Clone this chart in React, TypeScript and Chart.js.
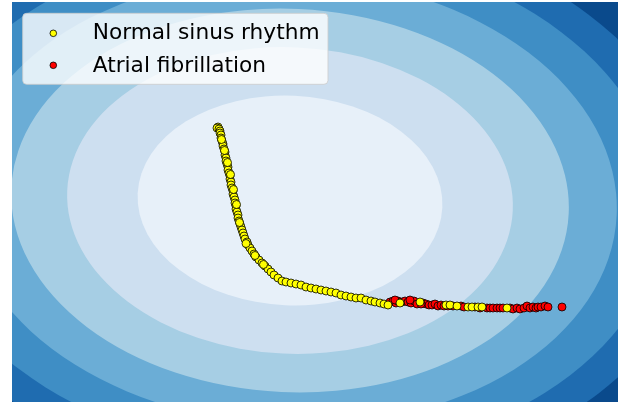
import React, { useEffect, useRef } from "react";
import { Chart, registerables } from "chart.js";

Chart.register(...registerables);

// ---- data ----
const seriesLabels = ["Normal sinus rhythm", "Atrial fibrillation"];

const normalX = [
  -0.72, -0.73, -0.71, -0.70, -0.70, -0.69, -0.69, -0.68, -0.67, -0.67,
  -0.66, -0.65, -0.65, -0.64, -0.64, -0.63, -0.62, -0.62, -0.61, -0.60,
  -0.60, -0.59, -0.59, -0.58, -0.57, -0.57, -0.56, -0.55, -0.55, -0.54,
  -0.54, -0.53, -0.52, -0.52, -0.51, -0.50, -0.49, -0.48, -0.47, -0.46,
  -0.45, -0.43, -0.42, -0.40, -0.38, -0.36, -0.34, -0.31, -0.28, -0.25,
  -0.22, -0.19, -0.16, -0.12, -0.08, -0.04, 0.01, 0.06, 0.11, 0.16,
  0.21, 0.26, 0.31, 0.36, 0.41, 0.46, 0.51, 0.56, 0.61, 0.66,
  0.71, 0.76, 0.81, 0.85, 0.90, 0.94, 0.98, 1.10, 1.30, 1.56,
  1.60, 1.67, 1.78, 1.82, 1.88, 1.92, 2.17, -0.685, -0.655, -0.625,
  -0.595, -0.565, -0.535, -0.505, -0.44, -0.35, -0.265,
];
const normalY = [
  0.74, 0.73, 0.72, 0.70, 0.68, 0.66, 0.63, 0.60, 0.57, 0.55,
  0.52, 0.49, 0.46, 0.43, 0.40, 0.37, 0.34, 0.31, 0.28, 0.25,
  0.22, 0.19, 0.16, 0.13, 0.10, 0.07, 0.04, 0.01, -0.02, -0.05,
  -0.08, -0.11, -0.14, -0.17, -0.20, -0.23, -0.26, -0.29, -0.32, -0.35,
  -0.38, -0.41, -0.44, -0.47, -0.50, -0.53, -0.56, -0.59, -0.62, -0.65,
  -0.68, -0.71, -0.74, -0.77, -0.80, -0.81, -0.82, -0.83, -0.84, -0.86,
  -0.87, -0.88, -0.89, -0.90, -0.91, -0.92, -0.94, -0.95, -0.96, -0.97,
  -0.97, -0.99, -1.00, -1.01, -1.02, -1.03, -1.04, -1.02, -1.01, -1.04,
  -1.04, -1.05, -1.06, -1.06, -1.06, -1.06, -1.07, 0.615, 0.505, 0.385,
  0.265, 0.115, -0.035, -0.215, -0.425, -0.545, -0.635,
];

const afibX = [
  1.00, 1.03, 1.06, 1.08, 1.12, 1.15, 1.18, 1.21, 1.24, 1.27,
  1.33, 1.36, 1.39, 1.42, 1.45, 1.48, 1.51, 1.54, 1.63, 1.71,
  1.74, 1.85, 1.97, 2.00, 2.03, 2.07, 2.10, 2.13, 2.20, 2.23,
  2.27, 2.30, 2.34, 2.37, 2.40, 2.43, 2.46, 2.48, 2.51, 2.55,
  2.58, 2.72, 1.05, 1.20, 1.31, 1.58, 1.90,
];
const afibY = [
  -1.01, -1.00, -1.02, -1.00, -1.01, -1.00, -1.01, -1.02, -1.00, -1.03,
  -1.02, -1.03, -1.04, -1.04, -1.03, -1.05, -1.04, -1.05, -1.05, -1.05,
  -1.06, -1.06, -1.07, -1.07, -1.07, -1.07, -1.07, -1.07, -1.07, -1.08,
  -1.07, -1.08, -1.07, -1.05, -1.07, -1.06, -1.07, -1.06, -1.06, -1.05,
  -1.06, -1.06, -0.99, -0.99, -1.03, -1.05, -1.07,
];

// background contour levels (outermost first), major semi-axis in data units
const contourRadii = [4.1, 3.72, 3.27, 2.79, 2.23, 1.525];
const contourColors = ["#0a4a8c", "#1f6cb0", "#3f8ec5", "#6badd6", "#a6cee4", "#cddff0", "#e7f0f9"];
const contourCenter = [0.0, 0.005];
const contourAspect = 0.687;
const contourTiltDeg = -2.6;

const xRange = [-2.78, 3.28];
const yRange = [-2.01, 1.99];

// ---- plugins ----
const contourPlugin = {
  id: "contourBackground",
  beforeDatasetsDraw(chart: any) {
    const { ctx, chartArea: a, scales } = chart;
    const xs = scales.x;
    const ys = scales.y;
    ctx.save();
    ctx.beginPath();
    ctx.rect(a.left, a.top, a.right - a.left, a.bottom - a.top);
    ctx.clip();
    ctx.fillStyle = contourColors[0];
    ctx.fillRect(a.left, a.top, a.right - a.left, a.bottom - a.top);
    const cx = xs.getPixelForValue(contourCenter[0]);
    const cy = ys.getPixelForValue(contourCenter[1]);
    contourRadii.forEach((r, i) => {
      const rx = Math.abs(xs.getPixelForValue(contourCenter[0] + r) - cx);
      const ry = Math.abs(ys.getPixelForValue(contourCenter[1] + r * contourAspect) - cy);
      ctx.beginPath();
      ctx.ellipse(cx, cy, rx, ry, (-contourTiltDeg * Math.PI) / 180, 0, Math.PI * 2);
      ctx.fillStyle = contourColors[i + 1];
      ctx.fill();
    });
    ctx.restore();
  },
};

const insetLegendPlugin = {
  id: "insetLegend",
  afterDraw(chart: any) {
    const { ctx, chartArea: a } = chart;
    const left = a.left + 10.7;
    const top = a.top + 11.3;
    const w = 305.3;
    const h = 71;
    const r = 4;
    ctx.save();
    ctx.beginPath();
    ctx.moveTo(left + r, top);
    ctx.lineTo(left + w - r, top);
    ctx.arcTo(left + w, top, left + w, top + r, r);
    ctx.lineTo(left + w, top + h - r);
    ctx.arcTo(left + w, top + h, left + w - r, top + h, r);
    ctx.lineTo(left + r, top + h);
    ctx.arcTo(left, top + h, left, top + h - r, r);
    ctx.lineTo(left, top + r);
    ctx.arcTo(left, top, left + r, top, r);
    ctx.closePath();
    ctx.fillStyle = "rgba(255,255,255,0.8)";
    ctx.fill();
    ctx.strokeStyle = "rgba(204,204,204,0.8)";
    ctx.lineWidth = 1;
    ctx.stroke();

    chart.data.datasets.forEach((ds: any, i: number) => {
      const my = top + 20 + i * 32;
      ctx.beginPath();
      ctx.arc(left + 30.6, my, 3.3, 0, Math.PI * 2);
      ctx.fillStyle = ds.backgroundColor;
      ctx.fill();
      ctx.strokeStyle = "#000000";
      ctx.lineWidth = 0.8;
      ctx.stroke();
      ctx.fillStyle = "#000000";
      ctx.font = "21.7px 'DejaVu Sans'";
      ctx.textBaseline = "alphabetic";
      ctx.textAlign = "left";
      ctx.fillText(ds.label, left + 70, top + 25.9 + i * 32.5);
    });
    ctx.restore();
  },
};

export default function App() {
  const canvasRef = useRef<HTMLCanvasElement | null>(null);

  useEffect(() => {
    if (!canvasRef.current) return;
    const chart = new Chart(canvasRef.current, {
      type: "scatter",
      data: {
        datasets: [
          {
            label: seriesLabels[0],
            data: normalX.map((v, i) => ({ x: v, y: normalY[i] })),
            backgroundColor: "#ffff00",
            borderColor: "#000000",
            borderWidth: 0.8,
            pointRadius: 4,
            pointHoverRadius: 4,
          },
          {
            label: seriesLabels[1],
            data: afibX.map((v, i) => ({ x: v, y: afibY[i] })),
            backgroundColor: "#ff0000",
            borderColor: "#000000",
            borderWidth: 0.8,
            pointRadius: 4,
            pointHoverRadius: 4,
          },
        ],
      },
      options: {
        responsive: false,
        animation: false,
        events: [],
        devicePixelRatio: 1,
        layout: { autoPadding: false, padding: { left: 12, top: 2, right: 1, bottom: 0 } },
        scales: {
          x: { type: "linear", min: xRange[0], max: xRange[1], display: false },
          y: { type: "linear", min: yRange[0], max: yRange[1], display: false },
        },
        plugins: {
          legend: { display: false },
          tooltip: { enabled: false },
        },
      },
      plugins: [contourPlugin, insetLegendPlugin],
    });
    return () => chart.destroy();
  }, []);

  return (
    <div style={{ position: "fixed", left: 0, top: 0, width: 619, height: 402, background: "#ffffff" }}>
      <canvas ref={canvasRef} width={619} height={402} style={{ display: "block" }} />
    </div>
  );
}
